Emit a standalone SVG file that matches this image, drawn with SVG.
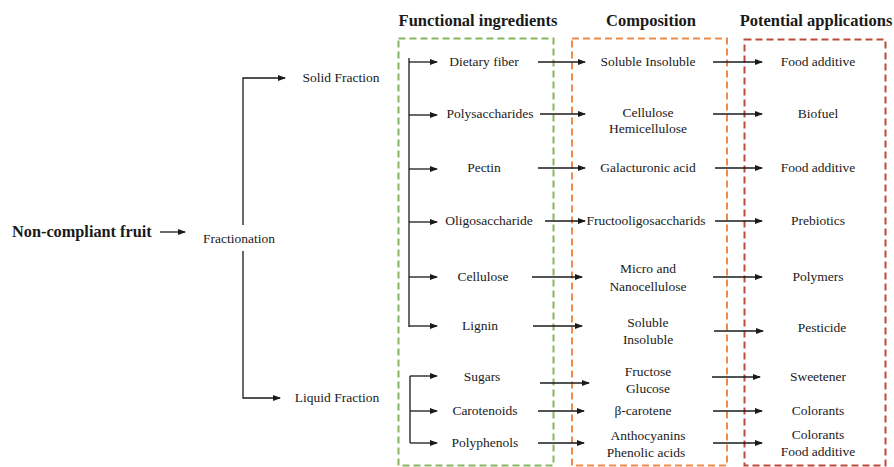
<svg xmlns="http://www.w3.org/2000/svg" width="894" height="467" viewBox="0 0 894 467">
<defs>
<marker id="ah" markerWidth="8" markerHeight="6" refX="7" refY="3" orient="auto" markerUnits="userSpaceOnUse">
<path d="M0,0 L8,3 L0,6 Z" fill="#1a1a1a"/>
</marker>
<style>
text{font-family:"Liberation Serif","Times New Roman",serif;fill:#1a1a1a;}
.t{font-size:13.5px;text-anchor:middle;}
.h{font-size:16.5px;font-weight:bold;text-anchor:middle;}
.b{font-size:16.3px;font-weight:bold;}
.c{fill:none;stroke:#1a1a1a;stroke-width:1.3;}
.a{marker-end:url(#ah);}
.box{fill:none;stroke-width:2;stroke-dasharray:7 4;}
</style>
</defs>
<rect width="894" height="467" fill="#ffffff"/>

<g id="boxes">
<rect id="box-functional" class="box" x="398.5" y="38.5" width="155" height="427" stroke="#86b65e"/>
<rect id="box-composition" class="box" x="572" y="38.5" width="155" height="427" stroke="#f08a4b"/>
<rect id="box-applications" class="box" x="744.5" y="39.5" width="141" height="426" stroke="#bd4b3a"/>
</g>

<g id="headers">
<text class="h" x="478" y="26">Functional ingredients</text>
<text class="h" x="651" y="26">Composition</text>
<text class="h" x="816" y="26">Potential applications</text>
</g>

<g id="connectors">
<path class="c a" d="M160,232 H185"/>
<path class="c a" d="M243,225 V78 H285"/>
<path class="c a" d="M243,251 V398 H280"/>
<path class="c" d="M409,58 V327"/>
<path class="c a" d="M409,62 H437"/>
<path class="c a" d="M409,115 H437"/>
<path class="c a" d="M409,169 H437"/>
<path class="c a" d="M409,222 H437"/>
<path class="c a" d="M409,277 H437"/>
<path class="c a" d="M409,326 H437"/>
<path class="c" d="M410,376 V443"/>
<path class="c a" d="M410,376 H437"/>
<path class="c a" d="M410,411 H437"/>
<path class="c a" d="M410,443 H437"/>

<path class="c a" d="M538,62 H585"/>
<path class="c a" d="M540,114 H585"/>
<path class="c a" d="M538,168 H585"/>
<path class="c a" d="M545,221 H585"/>
<path class="c a" d="M532,277 H582"/>
<path class="c a" d="M533,326 H582"/>
<path class="c a" d="M540,383 H589"/>
<path class="c a" d="M538,411 H584"/>
<path class="c a" d="M538,443 H584"/>

<path class="c a" d="M713,62 H762"/>
<path class="c a" d="M713,114 H762"/>
<path class="c a" d="M715,168 H762"/>
<path class="c a" d="M715,221 H762"/>
<path class="c a" d="M713,277 H762"/>
<path class="c a" d="M714,331 H763"/>
<path class="c a" d="M712,377 H760"/>
<path class="c a" d="M713,411 H762"/>
<path class="c a" d="M713,443 H762"/>
</g>

<g id="n-fruit"><text class="b" x="12" y="237">Non-compliant fruit</text></g>
<g id="n-fractionation"><text class="t" x="239" y="243">Fractionation</text></g>
<g id="n-solid"><text class="t" x="341" y="82">Solid Fraction</text></g>
<g id="n-liquid"><text class="t" x="337" y="402">Liquid Fraction</text></g>

<g id="n-dietary"><text class="t" x="484" y="66">Dietary fiber</text></g>
<g id="n-polysacch"><text class="t" x="490" y="118">Polysaccharides</text></g>
<g id="n-pectin"><text class="t" x="484" y="172">Pectin</text></g>
<g id="n-oligo"><text class="t" x="489" y="225">Oligosaccharide</text></g>
<g id="n-cellulose"><text class="t" x="483" y="281">Cellulose</text></g>
<g id="n-lignin"><text class="t" x="480" y="330">Lignin</text></g>
<g id="n-sugars"><text class="t" x="482" y="381">Sugars</text></g>
<g id="n-carotenoids"><text class="t" x="485" y="415">Carotenoids</text></g>
<g id="n-polyphenols"><text class="t" x="485" y="447">Polyphenols</text></g>

<g id="c-soluble1"><text class="t" x="648" y="66">Soluble  Insoluble</text></g>
<g id="c-cellulose"><text class="t" x="648" y="117">Cellulose</text><text class="t" x="648" y="133">Hemicellulose</text></g>
<g id="c-galact"><text class="t" x="648" y="172">Galacturonic  acid</text></g>
<g id="c-fos"><text class="t" x="646" y="225">Fructooligosaccharids</text></g>
<g id="c-micro"><text class="t" x="648" y="273">Micro and</text><text class="t" x="648" y="291">Nanocellulose</text></g>
<g id="c-soluble2"><text class="t" x="648" y="327">Soluble</text><text class="t" x="648" y="344">Insoluble</text></g>
<g id="c-fructose"><text class="t" x="648" y="376">Fructose</text><text class="t" x="648" y="393">Glucose</text></g>
<g id="c-betacarotene"><text class="t" x="643" y="415">β-carotene</text></g>
<g id="c-antho"><text class="t" x="648" y="440">Anthocyanins</text><text class="t" x="646" y="457">Phenolic  acids</text></g>

<g id="a-food1"><text class="t" x="818" y="66">Food additive</text></g>
<g id="a-biofuel"><text class="t" x="818" y="118">Biofuel</text></g>
<g id="a-food2"><text class="t" x="818" y="172">Food additive</text></g>
<g id="a-prebiotics"><text class="t" x="818" y="225">Prebiotics</text></g>
<g id="a-polymers"><text class="t" x="818" y="281">Polymers</text></g>
<g id="a-pesticide"><text class="t" x="822" y="332">Pesticide</text></g>
<g id="a-sweetener"><text class="t" x="818" y="381">Sweetener</text></g>
<g id="a-colorants"><text class="t" x="818" y="415">Colorants</text></g>
<g id="a-colorants2"><text class="t" x="818" y="439">Colorants</text><text class="t" x="818" y="456">Food additive</text></g>
</svg>
